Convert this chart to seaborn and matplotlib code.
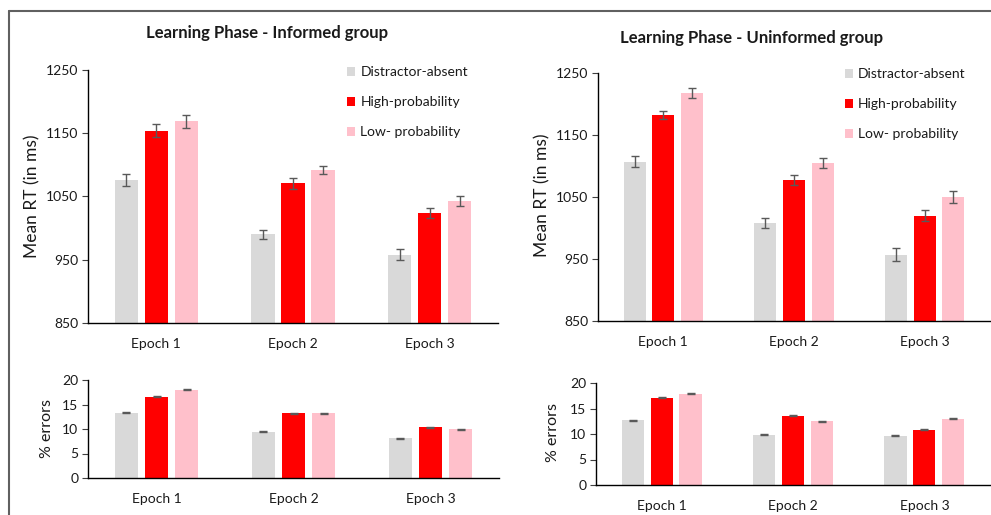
import matplotlib
matplotlib.use("Agg")
import matplotlib.pyplot as plt
from matplotlib.lines import Line2D
from matplotlib.container import BarContainer
import seaborn as sns
import pandas as pd

epochs = ["Epoch 1", "Epoch 2", "Epoch 3"]
conditions = ["Distractor-absent", "High-probability", "Low- probability"]
colors = ["#D9D9D9", "#FF0000", "#FFC0CB"]

# Informed group - mean RT (ms), per condition across epochs
inf_rt_absent = [1076, 990, 958]
inf_rt_high = [1154, 1071, 1024]
inf_rt_low = [1169, 1092, 1043]
inf_rt_err_absent = [9, 7.5, 8.5]
inf_rt_err_high = [10, 8.5, 8.5]
inf_rt_err_low = [10, 7, 8.5]

# Uninformed group - mean RT (ms)
uni_rt_absent = [1107, 1008, 957]
uni_rt_high = [1182, 1077, 1020]
uni_rt_low = [1218, 1105, 1050]
uni_rt_err_absent = [8.5, 8.5, 10]
uni_rt_err_high = [6.5, 8, 8.5]
uni_rt_err_low = [8.5, 7.5, 9.5]

# Informed group - % errors
inf_er_absent = [13.3, 9.4, 8.1]
inf_er_high = [16.6, 13.2, 10.4]
inf_er_low = [18.0, 13.2, 9.9]
# Uninformed group - % errors
uni_er_absent = [12.7, 9.9, 9.7]
uni_er_high = [17.1, 13.6, 10.8]
uni_er_low = [17.9, 12.5, 13.0]
er_err = [0.1, 0.1, 0.1]

sns.set_style("ticks")
plt.rcParams["font.family"] = ["Lato", "DejaVu Sans"]

fig = plt.figure(figsize=(9.91, 5.15), dpi=100)
W, H = 991.0, 515.0


def add_axes(x0, x1, y0, y1):
    return fig.add_axes([x0 / W, 1 - y1 / H, (x1 - x0) / W, (y1 - y0) / H])


def make_df(a, h, l):
    rows = []
    for cond, vals in zip(conditions, [a, h, l]):
        for ep, v in zip(epochs, vals):
            rows.append({"epoch": ep, "condition": cond, "value": v})
    return pd.DataFrame(rows)


def draw(ax, vals, errs, ylim, yticks, ylabel, label_xy, label_size,
         legend_xy=None):
    df = make_df(*vals)
    sns.barplot(data=df, x="epoch", y="value", hue="condition",
                order=epochs, hue_order=conditions, palette=colors,
                saturation=1, width=0.66, gap=0.23, errorbar=None,
                linewidth=0, legend=False, ax=ax)
    bar_conts = [c for c in ax.containers if isinstance(c, BarContainer)]
    for i, cont in enumerate(bar_conts):
        for bar in cont.patches:
            xc = bar.get_x() + bar.get_width() / 2
            j = int(round(xc))
            ax.errorbar(xc, bar.get_height(), yerr=errs[i][j], fmt="none",
                        ecolor="#595959", elinewidth=1.0, capsize=3,
                        capthick=1.0, zorder=5)
    ax.set_xlim(-0.5, 2.5)
    ax.set_ylim(*ylim)
    ax.set_yticks(yticks)
    ax.set_xlabel("")
    ax.set_ylabel(ylabel, fontsize=label_size, color="#1a1a1a")
    ax.yaxis.set_label_coords(*label_xy)
    sns.despine(ax=ax)
    for s in ["left", "bottom"]:
        ax.spines[s].set_color("black")
        ax.spines[s].set_linewidth(1.0)
    ax.tick_params(axis="y", direction="out", length=4, width=0.8,
                   color="#404040", labelsize=10, pad=3, labelcolor="#1a1a1a")
    ax.tick_params(axis="x", length=0, labelsize=10, pad=11,
                   labelcolor="#1a1a1a")
    ax.set_facecolor("white")
    if legend_xy is not None:
        handles = [plt.Rectangle((0, 0), 1, 1, facecolor=c, edgecolor="none")
                   for c in colors]
        ax.legend(handles, conditions, loc="upper left",
                  bbox_to_anchor=legend_xy, frameon=False, fontsize=10,
                  handlelength=0.6, handleheight=0.6, handletextpad=0.35,
                  labelspacing=1.3, borderpad=0, borderaxespad=0,
                  labelcolor="#1a1a1a")


ax1 = add_axes(88, 498, 70, 323)
draw(ax1, [inf_rt_absent, inf_rt_high, inf_rt_low],
     [inf_rt_err_absent, inf_rt_err_high, inf_rt_err_low],
     (850, 1250), [850, 950, 1050, 1150, 1250], "Mean RT (in ms)",
     ((40 - 88) / 410, (323 - 196) / 253), 12.5, legend_xy=(0.632, 1.015))

ax2 = add_axes(598, 990, 73, 321)
draw(ax2, [uni_rt_absent, uni_rt_high, uni_rt_low],
     [uni_rt_err_absent, uni_rt_err_high, uni_rt_err_low],
     (850, 1250), [850, 950, 1050, 1150, 1250], "Mean RT (in ms)",
     ((550 - 598) / 392, (321 - 195) / 248), 12.5, legend_xy=(0.630, 1.02))

ax3 = add_axes(88, 499, 380, 478)
draw(ax3, [inf_er_absent, inf_er_high, inf_er_low],
     [er_err, er_err, er_err],
     (0, 20), [0, 5, 10, 15, 20], "% errors",
     ((54 - 88) / 411, (478 - 428) / 98), 11.5)

ax4 = add_axes(596, 990, 383, 485)
draw(ax4, [uni_er_absent, uni_er_high, uni_er_low],
     [er_err, er_err, er_err],
     (0, 20), [0, 5, 10, 15, 20], "% errors",
     ((560 - 596) / 394, (485 - 433) / 102), 11.5)

fig.text(267 / W, 1 - 33 / H, "Learning Phase - Informed group",
         ha="center", va="center", fontsize=12, fontweight="bold",
         color="#1a1a1a")
fig.text(751.5 / W, 1 - 38 / H, "Learning Phase - Uninformed group",
         ha="center", va="center", fontsize=12, fontweight="bold",
         color="#1a1a1a")

# outer frame lines
fig.add_artist(Line2D([9 / W, 1.0], [1 - 11 / H, 1 - 11 / H],
                      transform=fig.transFigure, color="#606060", lw=1.5))
fig.add_artist(Line2D([9 / W, 9 / W], [1 - 11 / H, 0.0],
                      transform=fig.transFigure, color="#606060", lw=1.5))

fig.savefig("out.png", dpi=100, facecolor="white")
